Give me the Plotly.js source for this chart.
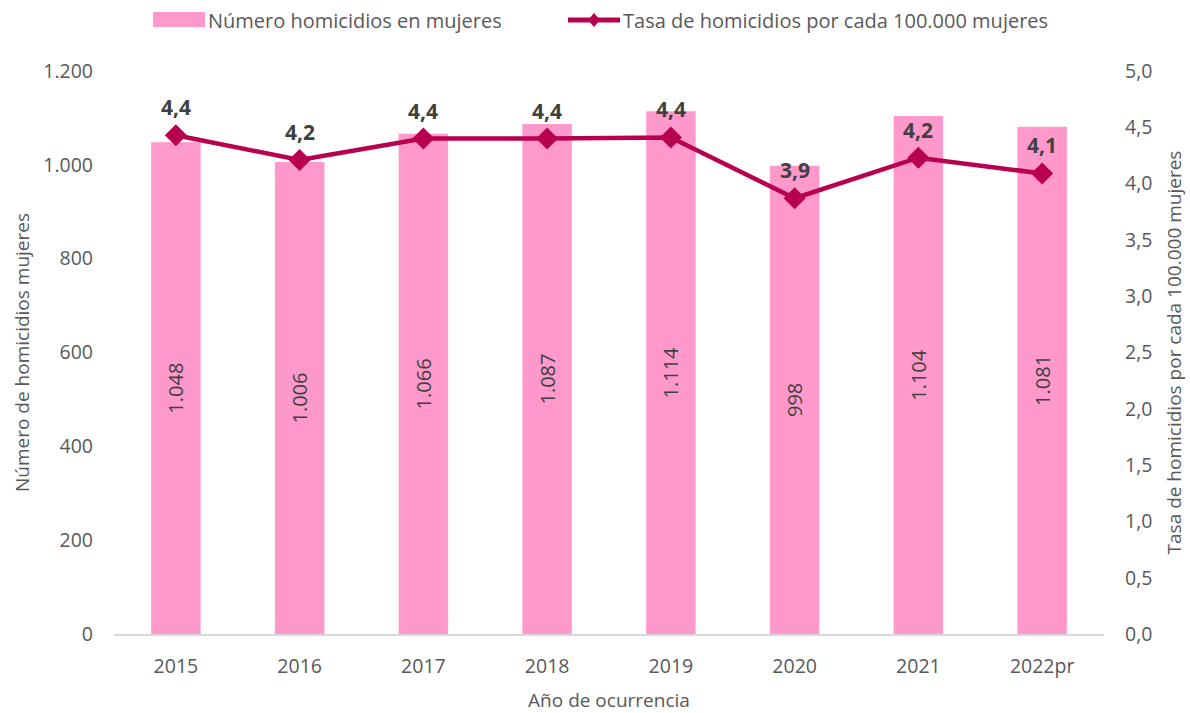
<!DOCTYPE html>
<html>
<head>
<meta charset="utf-8">
<script src="https://cdn.plot.ly/plotly-3.0.1.min.js"></script>
<style>html,body{margin:0;padding:0;background:#fff;}#chart{width:1190px;height:713px;}</style>
</head>
<body>
<div id="chart"></div>
<script>
const years = ['2015','2016','2017','2018','2019','2020','2021','2022pr'];
const homicidios = [1048, 1006, 1066, 1087, 1114, 998, 1104, 1081];
const tasa = [4.43, 4.21, 4.40, 4.40, 4.41, 3.87, 4.23, 4.09];
const seriesNames = ['Número homicidios en mujeres', 'Tasa de homicidios por cada 100.000 mujeres'];

const FONT = 'Open Sans, Noto Sans, sans-serif';
const BAR_COLOR = '#FF99CC';
const LINE_COLOR = '#B8004F';
const fmt1 = v => v.toFixed(1).replace('.', ',');

const traces = [
  {
    type: 'bar',
    name: seriesNames[0],
    x: years,
    y: homicidios,
    marker: {color: BAR_COLOR},
    width: 0.4,
    texttemplate: '%{y:,d}',
    textposition: 'inside',
    insidetextanchor: 'middle',
    textangle: -90,
    textfont: {family: FONT, size: 20, color: '#404040'},
    yaxis: 'y',
    showlegend: false
  },
  {
    type: 'scatter',
    mode: 'lines+markers',
    name: seriesNames[1],
    x: years,
    y: tasa,
    yaxis: 'y2',
    line: {color: LINE_COLOR, width: 4.5},
    marker: {symbol: 'diamond', size: 17, color: LINE_COLOR},
    cliponaxis: false,
    showlegend: false
  }
];

// plot area in pixels (for the hand-made legend above the plot)
const M = {l: 114, r: 86, t: 71, b: 79};
const PW = 1190 - M.l - M.r, PH = 713 - M.t - M.b;
const px = x => (x - M.l) / PW;
const py = y => (713 - M.b - y) / PH;

const annotations = years.map((yr, i) => ({
  x: i, y: tasa[i], xref: 'x', yref: 'y2',
  text: '<b>' + fmt1(tasa[i]) + '</b>',
  showarrow: false,
  yshift: 28,
  font: {family: FONT, size: 21, color: '#404040'}
}));

// legend texts
annotations.push(
  {xref: 'paper', yref: 'paper', x: px(206), y: py(20), xanchor: 'left', yanchor: 'middle',
   text: seriesNames[0], showarrow: false, font: {family: FONT, size: 20, color: '#595959'}},
  {xref: 'paper', yref: 'paper', x: px(621), y: py(20), xanchor: 'left', yanchor: 'middle',
   text: seriesNames[1], showarrow: false, font: {family: FONT, size: 20, color: '#595959'}}
);

const dcx = px(594), dcy = py(20), dw = 6 / PW, dh = 7 / PH;
const shapes = [
  {type: 'rect', xref: 'paper', yref: 'paper', x0: px(153), x1: px(205), y0: py(27), y1: py(12),
   fillcolor: BAR_COLOR, line: {width: 0}},
  {type: 'line', xref: 'paper', yref: 'paper', x0: px(568), x1: px(620), y0: py(20), y1: py(20),
   line: {color: LINE_COLOR, width: 5}},
  {type: 'path', xref: 'paper', yref: 'paper',
   path: `M ${dcx},${dcy + dh} L ${dcx + dw},${dcy} L ${dcx},${dcy - dh} L ${dcx - dw},${dcy} Z`,
   fillcolor: LINE_COLOR, line: {width: 0}}
];

const layout = {
  width: 1190,
  height: 713,
  separators: ',.',
  font: {family: FONT, size: 19, color: '#595959'},
  paper_bgcolor: '#ffffff',
  plot_bgcolor: '#ffffff',
  margin: M,
  showlegend: false,
  annotations: annotations,
  shapes: shapes,
  xaxis: {
    type: 'category',
    categoryarray: years,
    range: [-0.5, years.length - 0.5],
    showgrid: false,
    showline: true,
    linecolor: '#D9D9D9',
    linewidth: 2,
    ticks: '',
    ticklabelstandoff: 14,
    tickfont: {size: 19.5, color: '#595959'},
    title: {text: 'Año de ocurrencia', font: {size: 19, color: '#595959'}, standoff: 18}
  },
  yaxis: {
    range: [0, 1200],
    dtick: 200,
    tickformat: ',d',
    showgrid: false,
    zeroline: false,
    showline: false,
    ticks: '',
    ticklabelstandoff: 20,
    tickfont: {size: 19.5, color: '#595959'},
    title: {text: 'Número de homicidios mujeres', font: {size: 19, color: '#595959'}, standoff: 8}
  },
  yaxis2: {
    overlaying: 'y',
    side: 'right',
    range: [0, 5],
    dtick: 0.5,
    tickformat: '.1f',
    showgrid: false,
    zeroline: false,
    showline: false,
    ticks: '',
    ticklabelstandoff: 20,
    tickfont: {size: 19.5, color: '#595959'},
    title: {text: 'Tasa de homicidios por cada 100.000 mujeres', font: {size: 19, color: '#595959'}, standoff: 16}
  }
};

Plotly.newPlot('chart', traces, layout, {displayModeBar: false, staticPlot: true});
</script>
</body>
</html>
